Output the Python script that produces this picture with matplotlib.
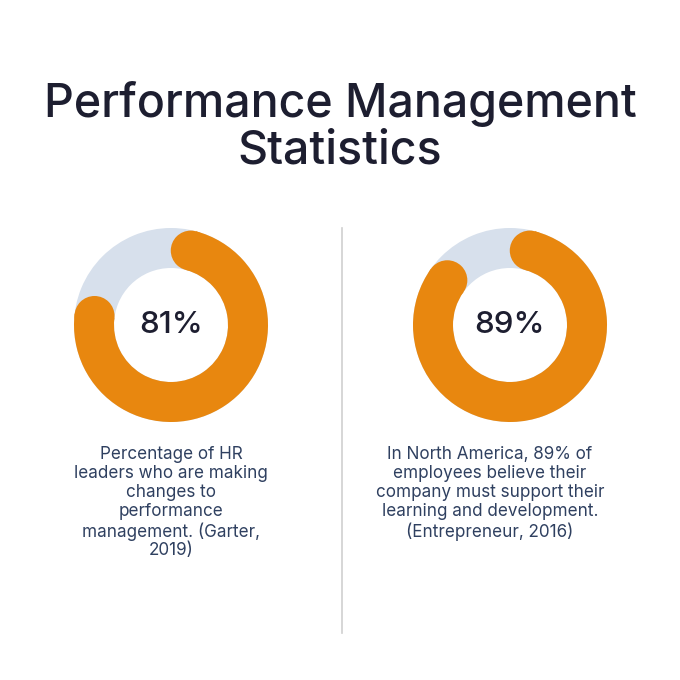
import numpy as np
import matplotlib
matplotlib.use("Agg")
import matplotlib.pyplot as plt
from matplotlib.patches import Wedge, Circle

# ---- data ----
title_lines = ["Performance Management", "Statistics"]
values = [81, 89]
center_labels = ["81%", "89%"]
captions = [
    "Percentage of HR\nleaders who are making\nchanges to\nperformance\nmanagement. (Garter,\n2019)",
    "In North America, 89% of\nemployees believe their\ncompany must support their\nlearning and development.\n(Entrepreneur, 2016)",
]

# ---- style ----
W = H = 680
ORANGE = "#E8870F"
TRACK = "#D7E0EC"
NAVY = "#1D1E30"
CAP_COL = "#2F4060"
DIV = "#CFCFCF"

fig = plt.figure(figsize=(6.8, 6.8), dpi=100)
ax = fig.add_axes([0, 0, 1, 1])
ax.set_xlim(0, W)
ax.set_ylim(0, H)
ax.set_aspect("equal")
ax.axis("off")

def Y(py):
    return H - py

centers_x = [171, 510]
cy = 325
R_out, width = 97, 40
R_mid = R_out - width / 2
cap_r = width / 2
inset = np.degrees(cap_r / R_mid)

for cx, v, lab in zip(centers_x, values, center_labels):
    c = (cx, Y(cy))
    ax.add_patch(Wedge(c, R_out, 0, 360, width=width, facecolor=TRACK, edgecolor="none"))
    sweep = v / 100 * 360
    t_start = 90 - inset
    t_end = 90 - sweep + inset
    ax.add_patch(Wedge(c, R_out, t_end, t_start, width=width, facecolor=ORANGE, edgecolor="none"))
    for t in (t_start, t_end):
        tr = np.radians(t)
        ax.add_patch(Circle((cx + R_mid * np.cos(tr), Y(cy) + R_mid * np.sin(tr)), cap_r,
                            facecolor=ORANGE, edgecolor="none"))
    ax.text(cx, Y(cy), lab, ha="center", va="center", fontsize=22.5, color=NAVY,
            family="Inter", fontweight="medium")

ax.text(340, Y(117), title_lines[0], ha="center", va="baseline", fontsize=33.5,
        color=NAVY, family="Inter", fontweight="medium")
ax.text(340, Y(163), title_lines[1], ha="center", va="baseline", fontsize=33.5,
        color=NAVY, family="Inter", fontweight="medium")

cap_x = [171, 490]
for x, t in zip(cap_x, captions):
    ax.text(x, Y(446), t, ha="center", va="top", fontsize=12.3, color=CAP_COL,
            family="Inter", linespacing=1.15)

ax.plot([342, 342], [Y(228), Y(633)], color=DIV, lw=1.2)

fig.savefig("out.png", dpi=100, facecolor="white")
